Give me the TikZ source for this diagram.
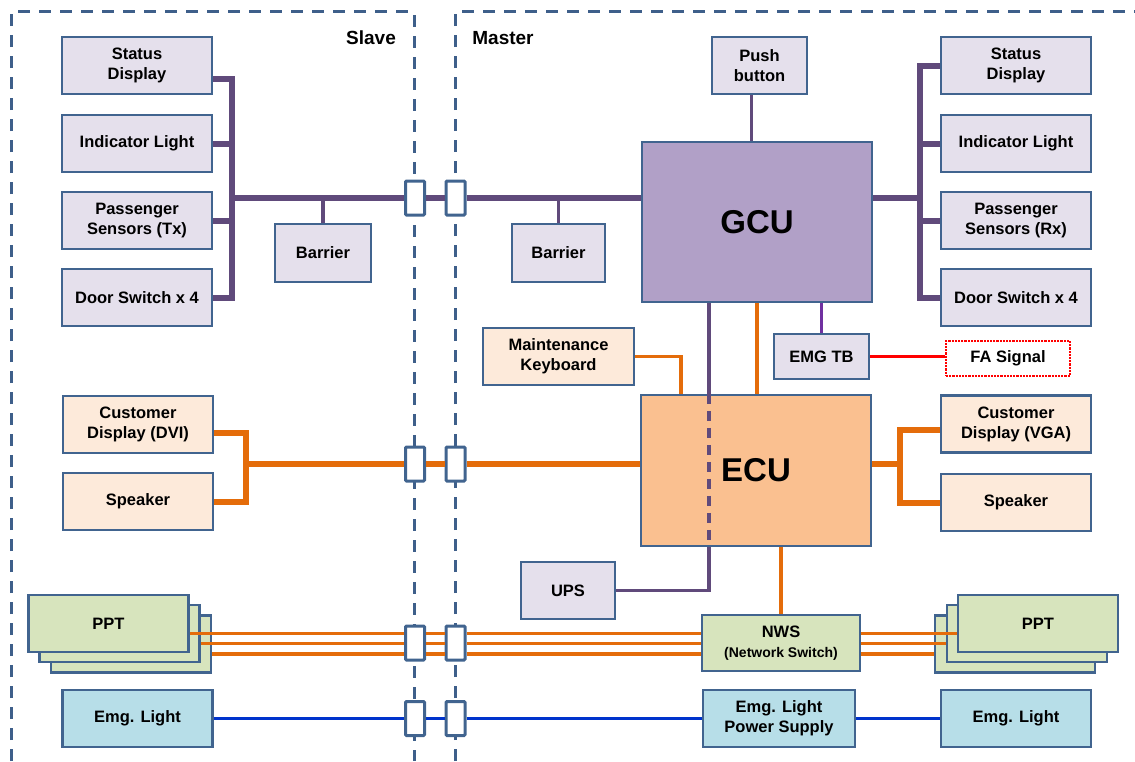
\documentclass[tikz,border=0pt]{standalone}
\usepackage{fontspec}
\setmainfont{Liberation Sans}
\usetikzlibrary{calc}
\definecolor{frBlue}{HTML}{3E5F8A}
\definecolor{bdBlue}{HTML}{41648F}
\definecolor{lav}{HTML}{E5E0EC}
\definecolor{gcuC}{HTML}{B1A0C7}
\definecolor{peach}{HTML}{FDEADA}
\definecolor{ecuC}{HTML}{FAC090}
\definecolor{grn}{HTML}{D7E4BD}
\definecolor{cyn}{HTML}{B7DEE8}
\definecolor{purp}{HTML}{604A7B}
\definecolor{viol}{HTML}{7030A0}
\definecolor{orng}{HTML}{E46C0A}
\definecolor{blu}{HTML}{0033CC}
\definecolor{faRed}{HTML}{FF0000}

\begin{document}
\begin{tikzpicture}[x=1pt,y=-1pt,
  font=\bfseries\fontsize{16.5}{20}\selectfont,
  bx/.style={draw=bdBlue, line width=2.2pt, fill=#1, align=center, inner sep=0pt,
    minimum width=150pt, minimum height=57pt},
  cn/.style={draw=bdBlue, line width=3pt, fill=white, rounded corners=1pt,
    minimum width=19pt, minimum height=34pt, inner sep=0pt},
  bus/.style={draw=#1, line width=6pt},
  wire/.style={draw=#1, line width=3.6pt},
  frm/.style={draw=frBlue, line width=3pt, dash pattern=on 12pt off 9pt, rounded corners=3pt},
  big/.style={font=\bfseries\fontsize{33}{36}\selectfont},
]
\useasboundingbox (0,0) rectangle (1135,761);
\draw[frm] (11,761) -- (11,11) -- (414.5,11) -- (414.5,761);
\draw[frm] (455,761) -- (455,11) -- (1135,11);
\node[font=\bfseries\fontsize{19}{22}\selectfont] (slv) at (371,38) {Slave};
\node[font=\bfseries\fontsize{19}{22}\selectfont] (mst) at (503,38) {Master};

\node[bx=lav] (sdL) at (137,65.5) {Status\\Display};
\node[bx=lav] (ilL) at (137,143.5) {Indicator Light};
\node[bx=lav] (psL) at (137,220.5) {Passenger\\Sensors (Tx)};
\node[bx=lav] (dsL) at (137,297.5) {Door Switch x 4};
\node[bx=lav, minimum width=96pt, minimum height=58pt] (barL) at (323,253) {Barrier};
\node[bx=peach] (cdL) at (138,424.5) {Customer\\Display (DVI)};
\node[bx=peach] (spL) at (138,501.5) {Speaker};
\node[bx=grn, minimum width=160pt] (pptL3) at (131,644) {};
\node[bx=grn, minimum width=160pt] (pptL2) at (119.5,633.5) {};
\node[bx=grn, minimum width=160pt] (pptL1) at (108.5,623.5) {PPT};
\node[bx=cyn] (elL) at (137.5,718.5) {Emg. Light};

\foreach \y/\n in {198/1,464/2,643/3,718.5/4}{
  \node[cn] (cs\n) at (415,\y) {};
  \node[cn] (cm\n) at (455.5,\y) {};
}

\node[bx=lav, minimum width=95pt] (pb) at (759.5,65.5) {Push\\button};
\node[bx=gcuC, big, minimum width=230pt, minimum height=160pt] (gcu) at (757,222) {GCU};
\node[bx=lav, minimum width=93pt, minimum height=58pt] (barM) at (558.5,253) {Barrier};
\node[bx=lav] (sdR) at (1016,65.5) {Status\\Display};
\node[bx=lav] (ilR) at (1016,143.5) {Indicator Light};
\node[bx=lav] (psR) at (1016,220.5) {Passenger\\Sensors (Rx)};
\node[bx=lav] (dsR) at (1016,297.5) {Door Switch x 4};
\node[bx=peach, minimum width=151pt] (mk) at (558.5,356.5) {Maintenance\\Keyboard};
\node[bx=lav, minimum width=95pt, minimum height=45pt] (emg) at (821.5,356.5) {EMG TB};
\node[draw=faRed, line width=2.2pt, densely dotted, fill=white, minimum width=124pt, minimum height=35pt] (fa) at (1008,358.5) {FA Signal};
\node[bx=ecuC, big, minimum width=230pt, minimum height=151pt] (ecu) at (756,470.5) {ECU};
\node[bx=peach] (cdR) at (1016,424) {Customer\\Display (VGA)};
\node[bx=peach] (spR) at (1016,502.5) {Speaker};
\node[bx=lav, minimum width=94pt] (ups) at (568,590.5) {UPS};
\node[bx=grn, minimum width=158pt, minimum height=56pt] (nws) at (781,643) {NWS\\{\fontsize{14}{18}\selectfont(Network Switch)}};
\node[bx=grn, minimum width=160pt] (pptR3) at (1015,644) {};
\node[bx=grn, minimum width=160pt] (pptR2) at (1027,633.5) {};
\node[bx=grn, minimum width=160pt] (pptR1) at (1038,623.5) {PPT};
\node[bx=cyn, minimum width=152pt] (eps) at (779,718.5) {Emg. Light\\Power Supply};
\node[bx=cyn] (elR) at (1016,718.5) {Emg. Light};

\coordinate (jL) at (232,198);
\coordinate (jR) at (920,198);
\coordinate (jO) at (246,464);
\coordinate (jOR) at (900,464);
\coordinate (upsx) at (709,589);

\draw[bus=purp] ([yshift=-13pt]sdL.east) -| (jL |- dsL.east) -- (dsL.east);
\foreach \b in {ilL,psL} \draw[bus=purp] (\b.east) -- (jL |- \b.east);
\draw[bus=purp] (jL) -- (cs1.west) (cs1.east) -- (cm1.west) (cm1.east) -- (gcu.west |- jL);
\draw[bus=purp] (gcu.east |- jR) -- (jR);
\draw[bus=purp] (sdR.west) -| (jR |- dsR.west) -- (dsR.west);
\foreach \b in {ilR,psR} \draw[bus=purp] (\b.west) -- (jR |- \b.west);
\draw[wire=purp] (barL.north) -- (barL.north |- jL);
\draw[wire=purp] (barM.north) -- (barM.north |- jL);
\draw[wire=purp] ([xshift=-8pt]pb.south) -- ([xshift=-8pt]pb.south |- gcu.north);
\draw[wire=purp] (gcu.south -| upsx) -- (ecu.north -| upsx);
\draw[wire=purp, dash pattern=on 10pt off 7pt] (ecu.north -| upsx) -- (ecu.south -| upsx);
\draw[wire=purp] (ecu.south -| upsx) |- (ups.east);
\draw[wire=viol] (emg.north) -- (emg.north |- gcu.south);
\draw[wire=orng] (gcu.south) -- (gcu.south |- ecu.north);
\draw[wire=orng] (mk.east) -| ([xshift=-75pt]ecu.north);
\draw[wire=faRed] (emg.east) -- (emg.east -| fa.west);

\draw[bus=orng] ([yshift=-8pt]cdL.east) -| (jO |- spL.east) -- (spL.east);
\draw[bus=orng] (jO) -- (cs2.west) (cs2.east) -- (cm2.west) (cm2.east) -- (ecu.west |- jO);
\draw[bus=orng] (ecu.east |- jOR) -- (jOR);
\draw[bus=orng] ([yshift=-6pt]cdR.west) -| (jOR |- spR.west) -- (spR.west);
\draw[wire=orng] (nws.north) -- (nws.north |- ecu.south);
\foreach \i in {1,2,3}
  \draw[wire=orng] ([yshift=-10pt]pptL\i.east) coordinate (p) -- (cs3.west |- p)
    (cs3.east |- p) -- (cm3.west |- p) (cm3.east |- p) -- (nws.west |- p)
    (nws.east |- p) -- (pptR\i.west |- p);

\draw[wire=blu] (elL.east) -- (cs4.west) (cs4.east) -- (cm4.west) (cm4.east) -- (eps.west)
  (eps.east) -- (elR.west);
\end{tikzpicture}
\end{document}
